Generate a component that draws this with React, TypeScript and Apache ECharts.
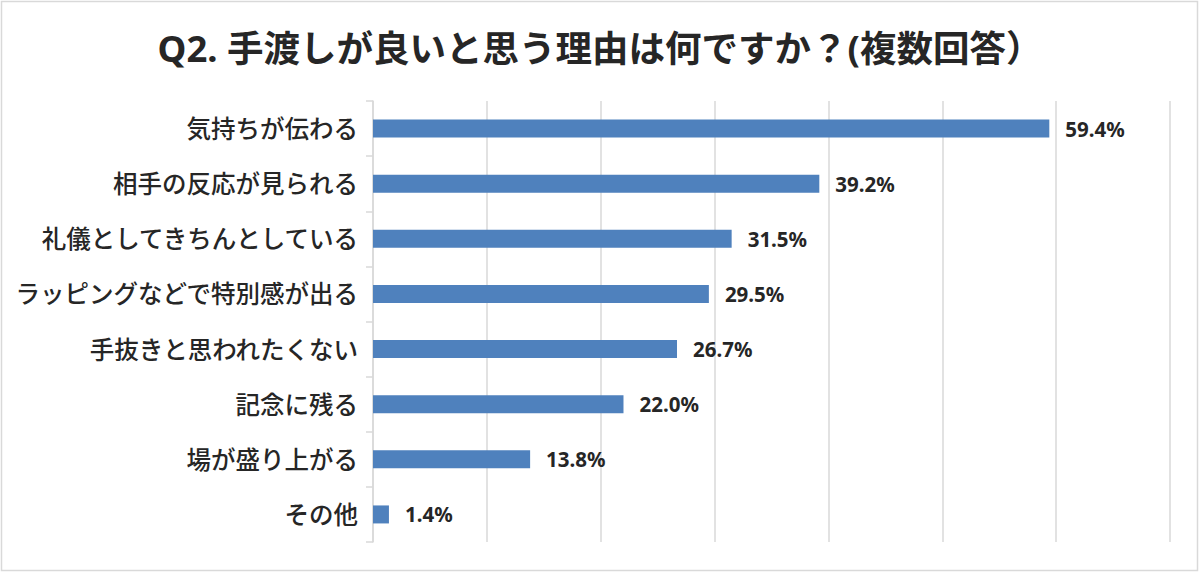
import * as echarts from 'echarts';
import React, { useEffect, useRef } from 'react';

const titleText = 'Q2. 手渡しが良いと思う理由は何ですか？(複数回答）';

const categories = [
  '気持ちが伝わる',
  '相手の反応が見られる',
  '礼儀としてきちんとしている',
  'ラッピングなどで特別感が出る',
  '手抜きと思われたくない',
  '記念に残る',
  '場が盛り上がる',
  'その他',
];

const percents = [59.4, 39.2, 31.5, 29.5, 26.7, 22.0, 13.8, 1.4];

const FONT = '"Noto Sans", "Noto Sans CJK JP", sans-serif';

const App: React.FC = () => {
  const chartRef = useRef<HTMLDivElement>(null);

  useEffect(() => {
    document.body.style.margin = '0';
    if (!chartRef.current) return;
    const chart = echarts.init(chartRef.current, undefined, { renderer: 'svg' });

    chart.setOption({
      animation: false,
      backgroundColor: '#ffffff',
      textStyle: { fontFamily: FONT },
      title: {
        text: titleText,
        left: 'center',
        top: 25,
        textStyle: {
          fontFamily: FONT,
          fontSize: 36.5,
          fontWeight: 'bold',
          color: '#262626',
        },
      },
      graphic: [
        {
          type: 'rect',
          shape: { x: 1.5, y: 1.5, width: 1196, height: 569 },
          style: { fill: 'none', stroke: '#d9d9d9', lineWidth: 1.5 },
          silent: true,
        },
      ],
      grid: { left: 373, right: 30, top: 101, bottom: 31, containLabel: false },
      xAxis: {
        type: 'value',
        min: 0,
        max: 70,
        interval: 10,
        axisLabel: { show: false },
        axisLine: { show: false },
        axisTick: { show: false },
        splitLine: { show: true, lineStyle: { color: '#d9d9d9', width: 1.5 } },
      },
      yAxis: {
        type: 'category',
        inverse: true,
        data: categories,
        axisLine: { show: true, lineStyle: { color: '#d9d9d9', width: 1.5 } },
        axisTick: { show: true, length: 7, lineStyle: { color: '#d9d9d9', width: 1.5 } },
        axisLabel: {
          margin: 15,
          fontFamily: FONT,
          fontSize: 24.5,
          fontWeight: 500,
          color: '#262626',
        },
      },
      series: [
        {
          type: 'bar',
          data: percents,
          barWidth: 18,
          itemStyle: { color: '#4F81BD' },
          label: {
            show: true,
            position: 'right',
            distance: 16,
            formatter: (p: any) => `${Number(p.value).toFixed(1)}%`,
            fontFamily: FONT,
            fontSize: 20.5,
            fontWeight: 'bold',
            color: '#262626',
          },
        },
      ],
    });

    return () => {
      chart.dispose();
    };
  }, []);

  return <div ref={chartRef} style={{ width: 1200, height: 573 }} />;
};

export default App;
